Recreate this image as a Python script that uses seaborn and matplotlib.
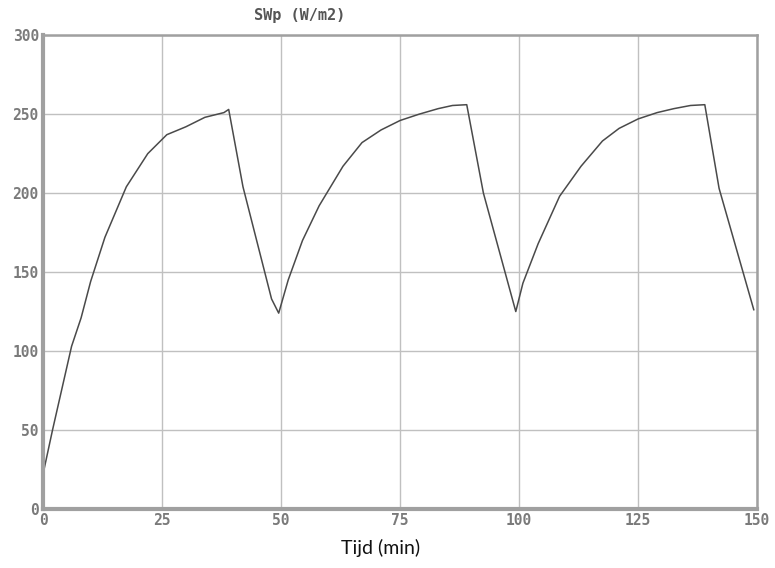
import pandas as pd
import matplotlib.pyplot as plt
import seaborn as sns

# readings (time in minutes, SWp in W/m2)
tijd = [0, 2, 6, 8, 10, 13, 17.5, 22, 26, 30, 34, 38, 39, 42, 48, 49.5,
        51.5, 54.5, 58, 60, 63, 67, 71, 75, 79, 83, 86, 89, 92.5, 99.3,
        100.8, 104, 108.5, 113, 117.5, 121, 125, 129, 132.5, 136, 139, 142, 149.3]
swp = [22, 50, 103, 121, 144, 172, 204, 225, 237, 242, 248, 251, 253, 204, 133, 124,
       145, 170, 192, 202, 217, 232, 240, 246, 250, 253.5, 255.5, 256, 200, 125,
       143, 168, 198, 217, 233, 241, 247, 251, 253.5, 255.5, 256, 203, 126]

x_ticks = [0, 25, 50, 75, 100, 125, 150]
y_ticks = [0, 50, 100, 150, 200, 250, 300]

sns.set_theme(style="white")
plt.rcParams['font.family'] = ['DejaVu Sans']

df = pd.DataFrame({"Tijd": tijd, "SWp": swp})

fig = plt.figure(figsize=(7.75, 5.68), dpi=100)
ax = fig.add_axes([0.0555, 0.104, 0.9215, 0.834])

sns.lineplot(data=df, x="Tijd", y="SWp", ax=ax, color="#4a4a4a", linewidth=1.1)

ax.set_xlim(0, 150)
ax.set_ylim(0, 300)
ax.set_xticks(x_ticks)
ax.set_yticks(y_ticks)
ax.set_xticklabels([str(v) for v in x_ticks], family="DejaVu Sans Mono",
                   fontweight="bold", fontsize=10.5, color="#7a7a7a")
ax.set_yticklabels([str(v) for v in y_ticks], family="DejaVu Sans Mono",
                   fontweight="bold", fontsize=10.5, color="#7a7a7a")
ax.tick_params(axis="both", length=0, pad=3)
ax.grid(True, color="#c0c0c0", linewidth=1.0)

# gray frame, heavier on left/bottom
for side, w in [("left", 3), ("bottom", 3), ("top", 1.8), ("right", 1.8)]:
    ax.spines[side].set_visible(True)
    ax.spines[side].set_color("#a0a0a0")
    ax.spines[side].set_linewidth(w)

ax.set_xlabel("")
ax.set_ylabel("")
fig.text(0.387, 0.972, "SWp (W/m2)", ha="center", va="center",
         family="DejaVu Sans Mono", fontweight="bold", fontsize=11, color="#555555")
fig.text(0.491, 0.035, "Tijd (min)", ha="center", va="center",
         family="Lato", fontsize=14, color="#111111")

plt.savefig("out.png", dpi=100)
